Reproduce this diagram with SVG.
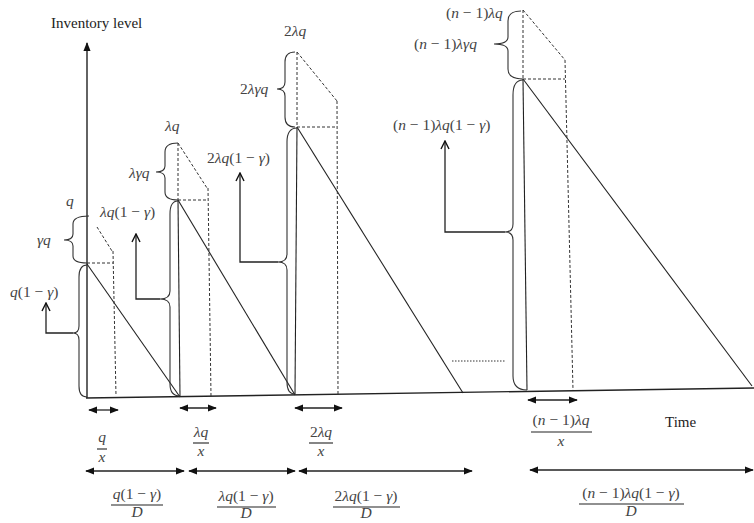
<svg xmlns="http://www.w3.org/2000/svg" width="754" height="523" viewBox="0 0 754 523">
<style>
.ax{stroke:#222;stroke-width:1.4;fill:none}
.ln{stroke:#222;stroke-width:1.1;fill:none}
.ds{stroke:#333;stroke-width:1;fill:none;stroke-dasharray:3,2}
.dt{stroke:#333;stroke-width:1;fill:none;stroke-dasharray:1.5,1.5}
.br{stroke:#333;stroke-width:1.1;fill:none}
.cn{stroke:#222;stroke-width:1.3;fill:none}
.m{font-family:"Liberation Serif","Times New Roman",serif;font-size:15.5px;fill:#444}
.i{font-style:italic}
.t{font-family:"Liberation Serif","Times New Roman",serif;font-size:15px;fill:#222}
.c{text-anchor:middle}
</style>
<defs>
<marker id="tri" viewBox="0 0 10 10" refX="9" refY="5" markerUnits="userSpaceOnUse" markerWidth="9" markerHeight="9" orient="auto-start-reverse"><path d="M0,1 L10,5 L0,9 z" fill="#111"/></marker>
<marker id="open" viewBox="0 0 10 10" refX="9" refY="5" markerUnits="userSpaceOnUse" markerWidth="10" markerHeight="10" orient="auto"><path d="M1,1 L9,5 L1,9" fill="none" stroke="#111" stroke-width="1.4"/></marker>
</defs>

<g id="axes">
<line class="ax" x1="87" y1="398" x2="87" y2="43" marker-end="url(#tri)"/>
<line class="ax" x1="86" y1="398" x2="754" y2="388"/>
<text class="t" x="51" y="28">Inventory level</text>
<text class="t" x="665" y="427">Time</text>
</g>

<g id="cycle1">
<line class="ln" x1="87" y1="264" x2="180" y2="397"/>
<line class="ds" x1="87" y1="263" x2="113" y2="263"/>
<line class="ds" x1="97" y1="227" x2="112" y2="251"/>
<line class="ds" x1="113" y1="251" x2="116" y2="396"/>
<path class="br" d="M89,216 Q73,216 73,224 L73,234 Q73,240 64,240 Q73,240 73,246 L73,256 Q73,263 87,263"/>
<path class="br" d="M87,265 Q79,265 79,277 L79,326 Q79,333 73,333 Q79,333 79,340 L79,386 Q79,397 87,397"/>
<text class="m i" x="66" y="206">q</text>
<text class="m" x="37" y="245"><tspan class="i">γq</tspan></text>
<text class="m" x="10" y="297"><tspan class="i">q</tspan>(1 − <tspan class="i">γ</tspan>)</text>
</g>

<g id="cycle2">
<line class="ln" x1="178" y1="200" x2="180" y2="397"/>
<line class="ln" x1="178" y1="200" x2="295" y2="395"/>
<line class="ds" x1="178" y1="200" x2="208" y2="200"/>
<line class="ds" x1="178" y1="143" x2="178" y2="200"/>
<line class="ds" x1="178" y1="143" x2="207" y2="188"/>
<line class="ds" x1="208" y1="188" x2="211" y2="396"/>
<path class="br" d="M178,143 Q165,143 165,152 L165,166 Q165,172 156,172 Q165,172 165,178 L165,192 Q165,200 178,200"/>
<path class="br" d="M178,201 Q170,201 170,214 L170,291 Q170,299 160,299 Q170,299 170,307 L170,384 Q170,396 180,396"/>
<text class="m i" x="165" y="131">λq</text>
<text class="m i" x="129" y="178">λγq</text>
<text class="m" x="100" y="217"><tspan class="i">λq</tspan>(1 − <tspan class="i">γ</tspan>)</text>
</g>

<g id="cycle3">
<line class="ln" x1="297" y1="127" x2="295" y2="394"/>
<line class="ln" x1="297" y1="127" x2="463" y2="393"/>
<line class="ds" x1="297" y1="127" x2="337" y2="127"/>
<line class="ds" x1="297" y1="52" x2="297" y2="127"/>
<line class="ds" x1="297" y1="52" x2="337" y2="101"/>
<line class="ds" x1="337" y1="101" x2="338" y2="394"/>
<path class="br" d="M295,52 Q285,52 285,62 L285,82 Q285,89 277,89 Q285,89 285,96 L285,117 Q285,127 295,127"/>
<path class="br" d="M297,128 Q287,128 287,142 L287,254 Q287,262 278,262 Q287,262 287,270 L287,382 Q287,394 295,394"/>
<text class="m" x="284" y="36">2<tspan class="i">λq</tspan></text>
<text class="m" x="240" y="94">2<tspan class="i">λγq</tspan></text>
<text class="m" x="207" y="163">2<tspan class="i">λq</tspan>(1 − <tspan class="i">γ</tspan>)</text>
</g>

<g id="cycle4">
<line class="ln" x1="523" y1="79" x2="527" y2="390"/>
<line class="ln" x1="523" y1="79" x2="752" y2="386"/>
<line class="ds" x1="523" y1="79" x2="565" y2="79"/>
<line class="ds" x1="523" y1="10" x2="523" y2="79"/>
<line class="ds" x1="523" y1="10" x2="565" y2="60"/>
<line class="ds" x1="565" y1="60" x2="573" y2="390"/>
<path class="br" d="M521,11 Q508,11 508,21 L508,37 Q508,44 494,44 Q508,44 508,51 L508,69 Q508,79 523,79"/>
<path class="br" d="M523,80 Q513,80 513,95 L513,224 Q513,232 505,232 Q513,232 513,240 L513,376 Q513,390 527,390"/>
<line class="dt" x1="452" y1="361" x2="506" y2="361"/>
<text class="m" x="446" y="18">(<tspan class="i">n</tspan> − 1)<tspan class="i">λq</tspan></text>
<text class="m" x="414" y="49">(<tspan class="i">n</tspan> − 1)<tspan class="i">λγq</tspan></text>
<text class="m" x="393" y="130">(<tspan class="i">n</tspan> − 1)<tspan class="i">λq</tspan>(1 − <tspan class="i">γ</tspan>)</text>
</g>

<g id="connectors">
<polyline class="cn" points="73,333 46,333 46,303" marker-end="url(#open)"/>
<polyline class="cn" points="160,299 136,299 136,234" marker-end="url(#open)"/>
<polyline class="cn" points="278,262 240,262 240,173" marker-end="url(#open)"/>
<polyline class="cn" points="505,232 445,232 445,141" marker-end="url(#open)"/>
<line class="cn" x1="89" y1="410" x2="118" y2="410" marker-start="url(#tri)" marker-end="url(#tri)"/>
<line class="cn" x1="180" y1="408" x2="216" y2="408" marker-start="url(#tri)" marker-end="url(#tri)"/>
<line class="cn" x1="295" y1="408" x2="342" y2="408" marker-start="url(#tri)" marker-end="url(#tri)"/>
<line class="cn" x1="528" y1="400" x2="577" y2="400" marker-start="url(#tri)" marker-end="url(#tri)"/>
<line class="cn" x1="86" y1="471" x2="184" y2="471" marker-start="url(#tri)" marker-end="url(#tri)"/>
<line class="cn" x1="189" y1="471" x2="295" y2="471" marker-start="url(#tri)" marker-end="url(#tri)"/>
<line class="cn" x1="299" y1="471" x2="472" y2="471" marker-start="url(#tri)" marker-end="url(#tri)"/>
<line class="cn" x1="530" y1="470" x2="753" y2="470" marker-start="url(#tri)" marker-end="url(#tri)"/>
</g>

<g id="fractions">
<text class="m i c" x="102" y="442">q</text>
<line class="ln" x1="97" y1="449" x2="107" y2="449"/>
<text class="m i c" x="102" y="462">x</text>

<text class="m i c" x="201" y="437">λq</text>
<line class="ln" x1="193" y1="443" x2="209" y2="443"/>
<text class="m i c" x="201" y="456">x</text>

<text class="m c" x="321" y="437">2<tspan class="i">λq</tspan></text>
<line class="ln" x1="309" y1="443" x2="333" y2="443"/>
<text class="m i c" x="321" y="456">x</text>

<text class="m c" x="561" y="425">(<tspan class="i">n</tspan> − 1)<tspan class="i">λq</tspan></text>
<line class="ln" x1="531" y1="432" x2="592" y2="432"/>
<text class="m i c" x="561" y="446">x</text>

<text class="m c" x="137" y="499"><tspan class="i">q</tspan>(1 − <tspan class="i">γ</tspan>)</text>
<line class="ln" x1="111" y1="505" x2="163" y2="505"/>
<text class="m i c" x="137" y="517">D</text>

<text class="m c" x="246" y="501"><tspan class="i">λq</tspan>(1 − <tspan class="i">γ</tspan>)</text>
<line class="ln" x1="217" y1="507" x2="276" y2="507"/>
<text class="m i c" x="246" y="518">D</text>

<text class="m c" x="366" y="501">2<tspan class="i">λq</tspan>(1 − <tspan class="i">γ</tspan>)</text>
<line class="ln" x1="333" y1="507" x2="400" y2="507"/>
<text class="m i c" x="366" y="518">D</text>

<text class="m c" x="631" y="498">(<tspan class="i">n</tspan> − 1)<tspan class="i">λq</tspan>(1 − <tspan class="i">γ</tspan>)</text>
<line class="ln" x1="579" y1="504" x2="684" y2="504"/>
<text class="m i c" x="631" y="516">D</text>
</g>
</svg>
